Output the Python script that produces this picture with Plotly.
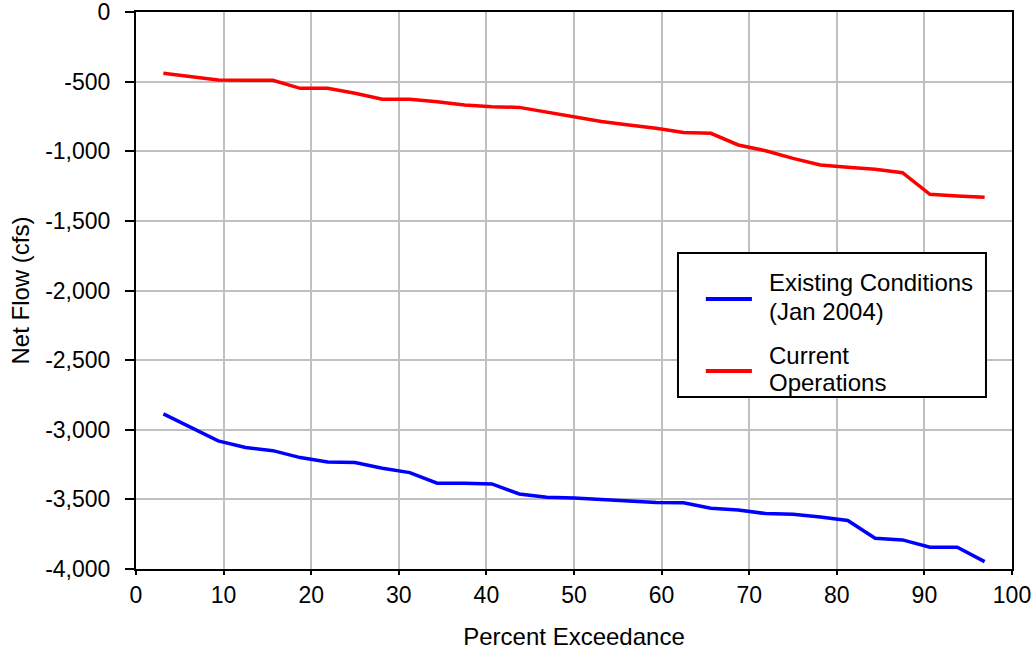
import plotly.graph_objects as go

# Exceedance percentages (i / (n + 1) plotting positions, n = 31)
percent_exceedance = [
    3.125, 6.25, 9.375, 12.5, 15.625, 18.75, 21.875, 25.0, 28.125, 31.25,
    34.375, 37.5, 40.625, 43.75, 46.875, 50.0, 53.125, 56.25, 59.375, 62.5,
    65.625, 68.75, 71.875, 75.0, 78.125, 81.25, 84.375, 87.5, 90.625, 93.75,
    96.875,
]

# Net flow (cfs), ranked
existing_conditions = [
    -2886, -2982, -3080, -3128, -3150, -3200, -3231, -3236, -3276, -3308,
    -3384, -3384, -3389, -3461, -3485, -3490, -3499, -3511, -3523, -3525,
    -3564, -3576, -3602, -3607, -3626, -3652, -3779, -3791, -3844, -3844,
    -3947,
]
current_operations = [
    -440, -464, -488, -490, -491, -548, -548, -584, -627, -627,
    -644, -668, -680, -685, -720, -751, -787, -811, -835, -866,
    -871, -955, -996, -1051, -1099, -1115, -1130, -1154, -1309, -1321,
    -1331,
]

# Axis ticks
x_tick_vals = [0, 10, 20, 30, 40, 50, 60, 70, 80, 90, 100]
y_tick_vals = [0, -500, -1000, -1500, -2000, -2500, -3000, -3500, -4000]
y_tick_text = ["0", "-500", "-1,000", "-1,500", "-2,000", "-2,500",
               "-3,000", "-3,500", "-4,000"]

# Series labels (one entry per legend text line) and colours
series_label_lines = [["Existing Conditions", "(Jan 2004)"], ["Current", "Operations"]]
series_colors = ["#0000ff", "#ff0000"]

FONT = "Arial, 'Liberation Sans', sans-serif"

fig = go.Figure()
for lines, values, color in zip(
    series_label_lines, [existing_conditions, current_operations], series_colors
):
    fig.add_trace(
        go.Scatter(
            x=percent_exceedance,
            y=values,
            mode="lines",
            name=" ".join(lines),
            showlegend=False,
            line=dict(color=color, width=3.5),
        )
    )

# Boxed legend inside the plot area (paper coordinates)
box_x0, box_x1, box_y0, box_y1 = 0.6187, 0.9703, 0.3088, 0.5673
sample_x0, sample_x1 = 0.6505, 0.7031
text_x = 0.7203
sample_y = [0.4847, 0.3555]
text_y = [[0.5135, 0.4619], [0.3842, 0.3345]]

shapes = [
    dict(type="rect", xref="paper", yref="paper",
         x0=box_x0, x1=box_x1, y0=box_y0, y1=box_y1,
         line=dict(color="black", width=2), fillcolor="white", layer="above")
]
annotations = []
for lines, color, sy, tys in zip(series_label_lines, series_colors, sample_y, text_y):
    shapes.append(dict(type="line", xref="paper", yref="paper",
                       x0=sample_x0, x1=sample_x1, y0=sy, y1=sy,
                       line=dict(color=color, width=4), layer="above"))
    for line_text, ty in zip(lines, tys):
        annotations.append(dict(xref="paper", yref="paper", x=text_x, y=ty,
                                text=line_text, showarrow=False,
                                xanchor="left", yanchor="middle",
                                font=dict(family=FONT, size=24, color="black")))

fig.update_layout(
    width=1031,
    height=651,
    margin=dict(l=136, r=19, t=12, b=82, autoexpand=False),
    paper_bgcolor="white",
    plot_bgcolor="white",
    font=dict(family=FONT, size=23, color="black"),
    showlegend=False,
    shapes=shapes,
    annotations=annotations,
)

fig.update_xaxes(
    range=[0, 100],
    tickvals=x_tick_vals,
    showgrid=True,
    gridcolor="#c0c0c0",
    gridwidth=2,
    showline=True,
    linecolor="black",
    linewidth=2,
    mirror=True,
    ticks="outside",
    ticklen=4,
    tickwidth=2,
    tickcolor="black",
    tickfont=dict(size=23),
    ticklabeloverflow="allow",
    zeroline=False,
    automargin=False,
    title=dict(text="Percent Exceedance", standoff=22, font=dict(size=24)),
)

fig.update_yaxes(
    range=[-4000, 0],
    tickvals=y_tick_vals,
    ticktext=y_tick_text,
    showgrid=True,
    gridcolor="#c0c0c0",
    gridwidth=2,
    showline=True,
    linecolor="black",
    linewidth=2,
    mirror=True,
    ticks="outside",
    ticklen=9,
    tickwidth=2,
    tickcolor="black",
    tickfont=dict(size=23),
    ticklabelstandoff=10,
    ticklabeloverflow="allow",
    zeroline=False,
    automargin=False,
    title=dict(text="Net Flow (cfs)", standoff=9, font=dict(size=24)),
)

fig.write_html("out.html")
